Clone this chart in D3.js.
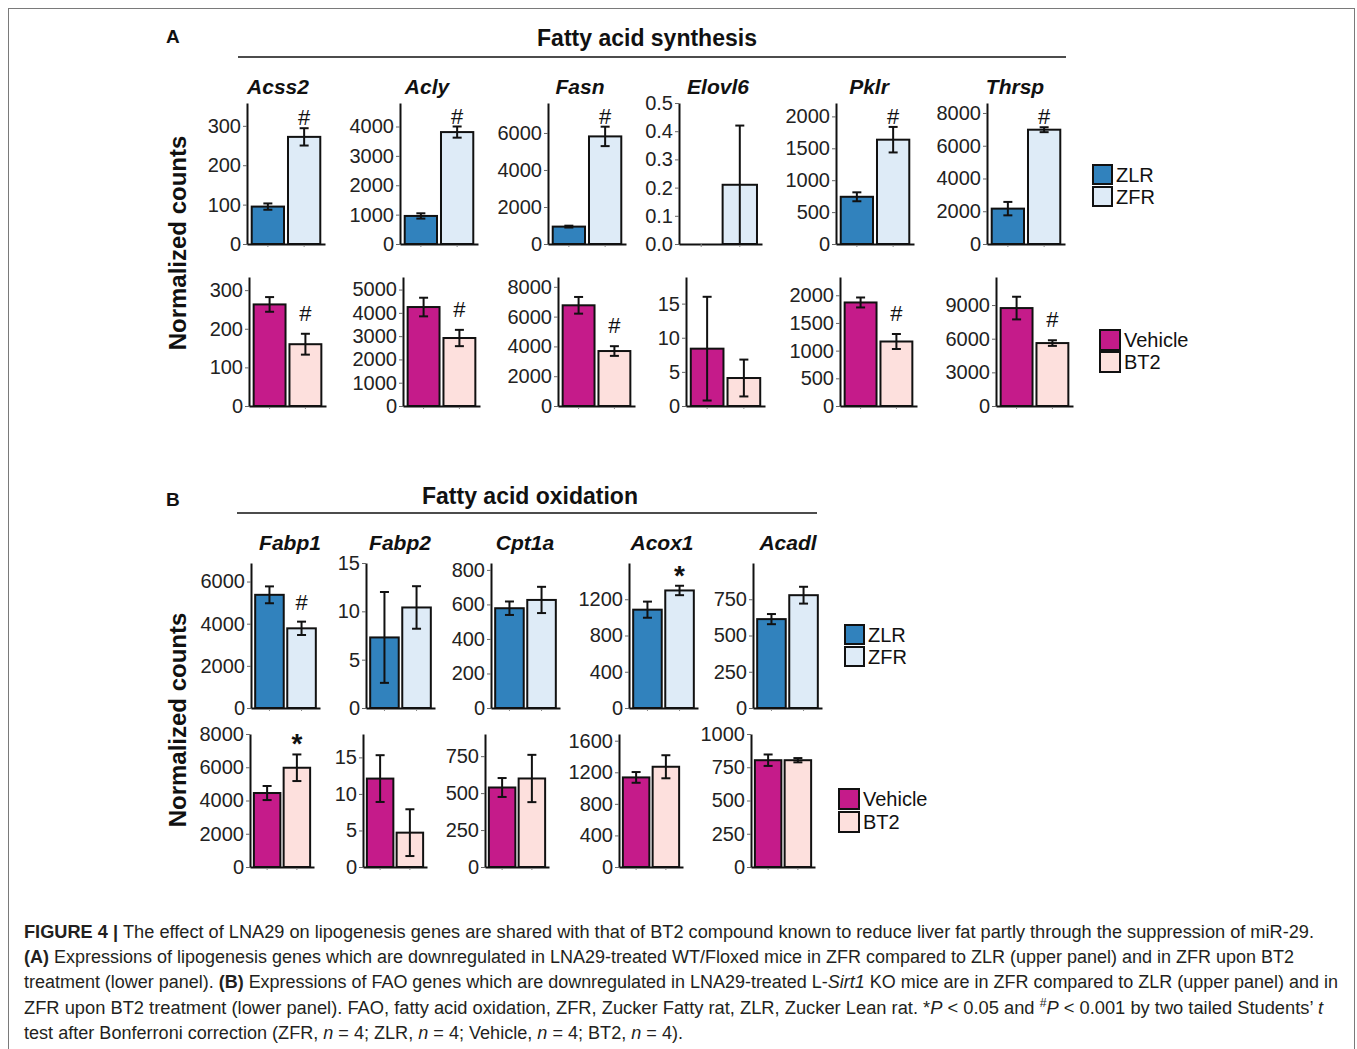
<!DOCTYPE html>
<html>
<head>
<meta charset="utf-8">
<script src="https://cdn.jsdelivr.net/npm/d3@7"></script>
<style>
  body { margin: 0; background: #fff; }
  svg { display: block; font-family: "Liberation Sans", Arial, Helvetica, sans-serif; }
</style>
</head>
<body>
<svg id="fig" width="1357" height="1049"></svg>
<script>
// ---------- Panel A: fatty acid synthesis ----------
const synthGenes = ["Acss2", "Acly", "Fasn", "Elovl6", "Pklr", "Thrsp"];

// upper row: ZLR vs ZFR (mean and SEM of normalized counts)
const synthZLR     = [95, 955, 940, 0, 740, 2160];
const synthZLRsem  = [8, 90, 50, 0, 70, 410];
const synthZFR     = [272, 3810, 5815, 0.21, 1635, 6980];
const synthZFRsem  = [22, 190, 525, 0.21, 200, 150];
const synthStrainSig   = ["#", "#", "#", "", "#", "#"];
const synthStrainMax   = [358, 4800, 7620, 0.5, 2210, 8610];
const synthStrainTicks = [
  [0, 100, 200, 300],
  [0, 1000, 2000, 3000, 4000],
  [0, 2000, 4000, 6000],
  [0, 0.1, 0.2, 0.3, 0.4, 0.5],
  [0, 500, 1000, 1500, 2000],
  [0, 2000, 4000, 6000, 8000]
];

// lower row: Vehicle vs BT2
const synthVehicle    = [263, 4250, 6760, 8.4, 1870, 8730];
const synthVehicleSem = [19, 400, 560, 7.6, 90, 1010];
const synthBT2        = [160, 2920, 3690, 4.1, 1165, 5610];
const synthBT2Sem     = [27, 350, 325, 2.7, 135, 250];
const synthTreatSig   = ["#", "#", "#", "", "#", "#"];
const synthTreatMax   = [334, 5540, 8660, 18.9, 2330, 11500];
const synthTreatTicks = [
  [0, 100, 200, 300],
  [0, 1000, 2000, 3000, 4000, 5000],
  [0, 2000, 4000, 6000, 8000],
  [0, 5, 10, 15],
  [0, 500, 1000, 1500, 2000],
  [0, 3000, 6000, 9000]
];

// ---------- Panel B: fatty acid oxidation ----------
const oxGenes = ["Fabp1", "Fabp2", "Cpt1a", "Acox1", "Acadl"];

const oxZLR     = [5370, 7.3, 578, 1085, 613];
const oxZLRsem  = [400, 4.7, 39, 89, 35];
const oxZFR     = [3780, 10.4, 626, 1297, 778];
const oxZFRsem  = [317, 2.2, 76, 52, 58];
const oxStrainSig   = ["#", "", "", "*", ""];
const oxStrainMax   = [6880, 15, 840, 1600, 1000];
const oxStrainTicks = [
  [0, 2000, 4000, 6000],
  [0, 5, 10, 15],
  [0, 200, 400, 600, 800],
  [0, 400, 800, 1200],
  [0, 250, 500, 750]
];

const oxVehicle    = [4450, 12.1, 538, 1135, 803];
const oxVehicleSem = [424, 3.2, 64, 68, 43];
const oxBT2        = [5970, 4.7, 599, 1270, 803];
const oxBT2Sem     = [800, 3.2, 160, 146, 16];
const oxTreatSig   = ["*", "", "", "", ""];
const oxTreatMax   = [8000, 18.2, 900, 1685, 1000];
const oxTreatTicks = [
  [0, 2000, 4000, 6000, 8000],
  [0, 5, 10, 15],
  [0, 250, 500, 750],
  [0, 400, 800, 1200, 1600],
  [0, 250, 500, 750, 1000]
];

const strainGroups = ["ZLR", "ZFR"];
const treatGroups  = ["Vehicle", "BT2"];

// ---------- caption text ----------
const captionLines = [
  [["FIGURE 4 | ", "b"], ["The effect of LNA29 on lipogenesis genes are shared with that of BT2 compound known to reduce liver fat partly through the suppression of miR-29.", ""]],
  [["(A)", "b"], [" Expressions of lipogenesis genes which are downregulated in LNA29-treated WT/Floxed mice in ZFR compared to ZLR (upper panel) and in ZFR upon BT2", ""]],
  [["treatment (lower panel). ", ""], ["(B)", "b"], [" Expressions of FAO genes which are downregulated in LNA29-treated L-", ""], ["Sirt1", "i"], [" KO mice are in ZFR compared to ZLR (upper panel) and in", ""]],
  [["ZFR upon BT2 treatment (lower panel). FAO, fatty acid oxidation, ZFR, Zucker Fatty rat, ZLR, Zucker Lean rat. *", ""], ["P", "i"], [" < 0.05 and ", ""], ["#", "sup"], ["P", "i"], [" < 0.001 by two tailed Students\u2019 ", ""], ["t", "i"]],
  [["test after Bonferroni correction (ZFR, ", ""], ["n", "i"], [" = 4; ZLR, ", ""], ["n", "i"], [" = 4; Vehicle, ", ""], ["n", "i"], [" = 4; BT2, ", ""], ["n", "i"], [" = 4).", ""]]
];

// ---------- styling & layout ----------
const groupColor = { ZLR: "#3182bd", ZFR: "#deebf7", Vehicle: "#c51b8a", BT2: "#fde0dd" };

const layoutA1 = { top: 103, base: 244, widths: [78, 78, 78, 83, 78, 78], xs: [247, 400, 548, 679, 836, 987], titleDx: [31, 27, 32, 39, 33, 28], titleY: 94, lift: 3 };
const layoutA2 = { top: 277, base: 406, widths: [77, 77, 77, 79, 77, 77], xs: [249, 403, 558, 686, 840, 996], lift: 13 };
const layoutB1 = { top: 563, base: 708, widths: [69, 69, 69, 69, 69], xs: [251, 366, 491, 629, 753], titleDx: [39, 34, 34, 33, 35], titleY: 550, lift: 12 };
const layoutB2 = { top: 734, base: 867, widths: [64, 64, 64, 64, 64], xs: [250, 363, 485, 619, 751], lift: 12 };

const svg = d3.select("#fig");
svg.append("rect").attr("width", 1357).attr("height", 1049).attr("fill", "#fff");
svg.append("rect")
  .attr("x", 8.5).attr("y", 8.5).attr("width", 1346).attr("height", 1100)
  .attr("fill", "none").attr("stroke", "#7a7a7a").attr("stroke-width", 1);

function tickFormatFor(ticks) {
  return ticks.some(t => !Number.isInteger(t)) ? d3.format(".1f") : d3.format("d");
}

function drawPanel(parent, cfg) {
  const g = parent.append("g").attr("transform", `translate(${cfg.x0},0)`);
  const y = d3.scaleLinear().domain([0, cfg.max]).range([cfg.base, cfg.top]);
  const x = d3.scaleBand().domain(cfg.groups).range([0, cfg.width])
    .paddingInner(0.11).paddingOuter(0.13);

  // left axis
  const ya = g.append("g").call(
    d3.axisLeft(y).tickValues(cfg.ticks).tickFormat(tickFormatFor(cfg.ticks))
      .tickSize(4).tickPadding(2).tickSizeOuter(0)
  );
  ya.select(".domain").attr("stroke", "#111").attr("stroke-width", 2);
  ya.selectAll(".tick line").attr("stroke", "#666").attr("stroke-width", 1);
  ya.selectAll(".tick text").attr("font-size", 20).attr("fill", "#222")
    .attr("font-family", "Liberation Sans, Arial, sans-serif");

  // bottom axis
  const xa = g.append("g").attr("transform", `translate(0,${cfg.base})`).call(
    d3.axisBottom(x).tickSize(3).tickFormat("").tickSizeOuter(0)
  );
  xa.select(".domain").attr("stroke", "#111").attr("stroke-width", 2);
  xa.selectAll(".tick line").attr("stroke", "#888").attr("stroke-width", 1);

  const rows = cfg.groups.map((k, i) => ({ k, v: cfg.means[i], e: cfg.sems[i] }));

  // bars
  g.selectAll("rect.bar").data(rows).join("rect")
    .attr("class", "bar")
    .attr("x", d => x(d.k))
    .attr("y", d => y(d.v))
    .attr("width", x.bandwidth())
    .attr("height", d => y(0) - y(d.v))
    .attr("fill", d => groupColor[d.k])
    .attr("stroke", "#111").attr("stroke-width", 2);

  // error bars
  const cap = 4.5;
  const eb = g.selectAll("g.err").data(rows.filter(d => d.e > 0)).join("g").attr("class", "err")
    .attr("stroke", "#111").attr("stroke-width", 2);
  eb.append("line")
    .attr("x1", d => x(d.k) + x.bandwidth() / 2).attr("x2", d => x(d.k) + x.bandwidth() / 2)
    .attr("y1", d => y(Math.max(0, d.v - d.e))).attr("y2", d => y(d.v + d.e));
  eb.append("line")
    .attr("x1", d => x(d.k) + x.bandwidth() / 2 - cap).attr("x2", d => x(d.k) + x.bandwidth() / 2 + cap)
    .attr("y1", d => y(d.v + d.e)).attr("y2", d => y(d.v + d.e));
  eb.filter(d => d.v - d.e > 0).append("line")
    .attr("x1", d => x(d.k) + x.bandwidth() / 2 - cap).attr("x2", d => x(d.k) + x.bandwidth() / 2 + cap)
    .attr("y1", d => y(d.v - d.e)).attr("y2", d => y(d.v - d.e));

  // significance mark above the second group
  if (cfg.sig) {
    const d = rows[1];
    const isStar = cfg.sig === "*";
    g.append("text")
      .attr("x", x(d.k) + x.bandwidth() / 2)
      .attr("y", y(d.v + d.e) - cfg.lift + (isStar ? 11 : 0))
      .attr("text-anchor", "middle")
      .attr("font-size", isStar ? 28 : 22)
      .attr("font-weight", isStar ? "bold" : "normal")
      .attr("fill", "#111")
      .text(cfg.sig);
  }

  // gene title
  if (cfg.title) {
    parent.append("text")
      .attr("x", cfg.x0 + cfg.titleDx).attr("y", cfg.titleY)
      .attr("text-anchor", "middle")
      .attr("font-size", 21).attr("font-weight", "bold").attr("font-style", "italic")
      .attr("fill", "#111")
      .text(cfg.title);
  }
}

function drawRow(parent, genes, layout, groups, meansA, semsA, meansB, semsB, maxes, ticks, sigs, withTitles) {
  genes.forEach((gene, i) => {
    drawPanel(parent, {
      x0: layout.xs[i], top: layout.top, base: layout.base, width: layout.widths[i],
      groups, means: [meansA[i], meansB[i]], sems: [semsA[i], semsB[i]],
      max: maxes[i], ticks: ticks[i], sig: sigs[i], lift: layout.lift,
      title: withTitles ? gene : null,
      titleDx: withTitles ? layout.titleDx[i] : 0, titleY: layout.titleY
    });
  });
}

function drawLegend(parent, groups, x, y, box, gap) {
  groups.forEach((k, i) => {
    const yy = y + i * (box + gap);
    parent.append("rect").attr("x", x).attr("y", yy).attr("width", box).attr("height", box)
      .attr("fill", groupColor[k]).attr("stroke", "#111").attr("stroke-width", 2);
    parent.append("text").attr("x", x + box + 4).attr("y", yy + box / 2 + 7)
      .attr("font-size", 20).attr("fill", "#111").text(k);
  });
}

function sectionHeader(parent, letter, lx, ly, title, cx, cy, lineX1, lineX2, lineY) {
  parent.append("text").attr("x", lx).attr("y", ly).attr("font-size", 19)
    .attr("font-weight", "bold").attr("fill", "#111").text(letter);
  parent.append("text").attr("x", cx).attr("y", cy).attr("text-anchor", "middle")
    .attr("font-size", 23).attr("font-weight", "bold").attr("fill", "#111").text(title);
  parent.append("line").attr("x1", lineX1).attr("x2", lineX2).attr("y1", lineY).attr("y2", lineY)
    .attr("stroke", "#111").attr("stroke-width", 1.6);
}

function yTitle(parent, cx, cy) {
  parent.append("text")
    .attr("transform", `translate(${cx + 8},${cy}) rotate(-90)`)
    .attr("text-anchor", "middle")
    .attr("font-size", 24).attr("font-weight", "bold").attr("fill", "#111")
    .text("Normalized counts");
}

// ---------- Panel A ----------
const panelA = svg.append("g");
sectionHeader(panelA, "A", 166, 43, "Fatty acid synthesis", 647, 46, 238, 1066, 57);
yTitle(panelA, 178, 243);
drawRow(panelA, synthGenes, layoutA1, strainGroups, synthZLR, synthZLRsem, synthZFR, synthZFRsem,
        synthStrainMax, synthStrainTicks, synthStrainSig, true);
drawRow(panelA, synthGenes, layoutA2, treatGroups, synthVehicle, synthVehicleSem, synthBT2, synthBT2Sem,
        synthTreatMax, synthTreatTicks, synthTreatSig, false);
drawLegend(panelA, strainGroups, 1093, 165, 19, 3);
drawLegend(panelA, treatGroups, 1100, 330, 20, 2);

// ---------- Panel B ----------
const panelB = svg.append("g");
sectionHeader(panelB, "B", 166, 506, "Fatty acid oxidation", 530, 504, 237, 817, 513);
yTitle(panelB, 178, 720);
drawRow(panelB, oxGenes, layoutB1, strainGroups, oxZLR, oxZLRsem, oxZFR, oxZFRsem,
        oxStrainMax, oxStrainTicks, oxStrainSig, true);
drawRow(panelB, oxGenes, layoutB2, treatGroups, oxVehicle, oxVehicleSem, oxBT2, oxBT2Sem,
        oxTreatMax, oxTreatTicks, oxTreatSig, false);
drawLegend(panelB, strainGroups, 845, 625, 19, 3);
drawLegend(panelB, treatGroups, 839, 789, 20, 3);

// ---------- caption ----------
const captionWidths = [1290, 1270, 1314, 1299, 659];
const caption = svg.append("g")
  .attr("font-family", "'Liberation Sans Narrow', 'Liberation Sans', Arial, sans-serif")
  .attr("font-size", 18).attr("fill", "#231f20");
captionLines.forEach((segs, i) => {
  const t = caption.append("text").attr("x", 24).attr("y", 938 + i * 25.2)
    .attr("textLength", captionWidths[i]).attr("lengthAdjust", "spacingAndGlyphs");
  segs.forEach(([str, style]) => {
    const ts = t.append("tspan").text(str);
    if (style === "b") ts.attr("font-weight", "bold");
    if (style === "i") ts.attr("font-style", "italic");
    if (style === "sup") ts.attr("font-size", 12).attr("baseline-shift", "super");
  });
});
</script>
</body>
</html>
